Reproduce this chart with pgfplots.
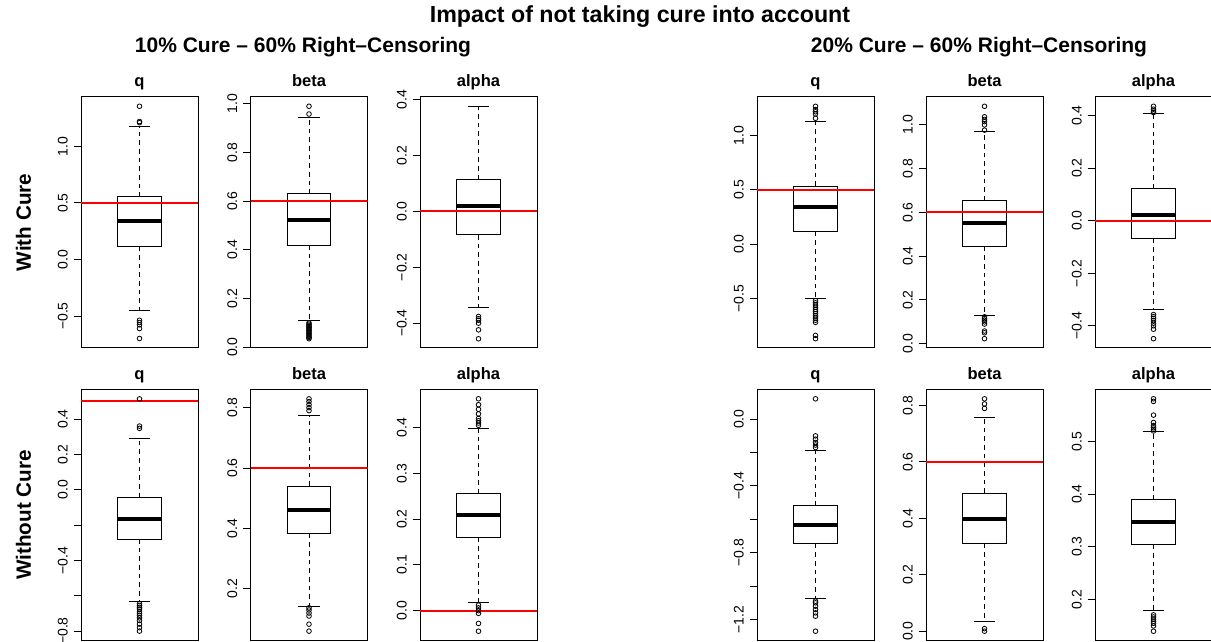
\documentclass[border=0pt]{standalone}
\usepackage{fontspec}
\setmainfont{Liberation Sans}
\usepackage{pgfplots}
\pgfplotsset{compat=1.18}
\usepgfplotslibrary{statistics}
\definecolor{rred}{RGB}{255,0,0}
\pgfplotsset{
  rp/.style={
    scale only axis, width=87.75pt, height=188.25pt,
    anchor=south west,
    xmin=0.46, xmax=1.54, xtick=\empty,
    axis line style={line width=0.75pt},
    every tick/.style={black, line width=0.75pt},
    tick align=outside, ytick pos=left, major tick length=5.5pt,
    yticklabel style={rotate=90, anchor=base, font=\fontsize{10.5}{12}\selectfont, inner sep=0pt, yshift=4.5pt},
    every axis title/.style={font=\bfseries\fontsize{12.4}{14}\selectfont, at={(0.5,1)}, anchor=base, yshift=7.5pt, inner sep=0pt},
    boxplot/draw direction=y,
    boxplot/box extend=0.4,
    boxplot/whisker extend=0.2,
    boxplot/every box/.style={draw=black, line width=0.75pt},
    boxplot/every median/.style={draw=black, line width=3pt},
    boxplot/draw/whisker/.code 2 args={%
      \draw[black, line width=0.75pt, dash pattern=on 3.5pt off 3pt]
        (boxplot box cs:##1,0.5) -- (boxplot box cs:##2,0.5);
      \draw[black, line width=0.75pt, solid]
        (boxplot whisker cs:##2,0) -- (boxplot whisker cs:##2,1);
    },
  },
  rb/.style={black, mark=o, mark size=1.75pt, mark options={solid, line width=0.6pt}},
  rl/.style={color=rred, draw=rred, line width=1.5pt, no marks},
}
\begin{document}
\begin{tikzpicture}
\useasboundingbox (0,0) rectangle (908.25pt,481.5pt);

% ---------- titles ----------
\node[anchor=base, font=\bfseries\fontsize{17.4}{20}\selectfont, inner sep=0pt] at (480pt,464.25pt) {Impact of not taking cure into account};
\node[anchor=base, font=\bfseries\fontsize{15.75}{18}\selectfont, inner sep=0pt] at (227.25pt,441.75pt) {10\% Cure – 60\% Right–Censoring};
\node[anchor=base, font=\bfseries\fontsize{15.75}{18}\selectfont, inner sep=0pt] at (734.25pt,441.75pt) {20\% Cure – 60\% Right–Censoring};
\node[anchor=base, rotate=90, font=\bfseries\fontsize{15.5}{18}\selectfont, inner sep=0pt] at (23.25pt,314.6pt) {With Cure};
\node[anchor=base, rotate=90, font=\bfseries\fontsize{15.5}{18}\selectfont, inner sep=0pt] at (23.25pt,95.25pt) {Without Cure};

% ================= LEFT GROUP, TOP ROW =================
\begin{axis}[rp, at={(60.75pt,220.5pt)}, title={q},
  ymin=-0.782, ymax=1.437, ytick={-0.5,0,0.5,1}, yticklabels={−0.5,0.0,0.5,1.0}]
\addplot[rb, boxplot prepared={draw position=1, lower whisker=-0.45, lower quartile=0.117, median=0.337, upper quartile=0.554, upper whisker=1.18}]
  coordinates {(1,-0.537) (1,-0.557) (1,-0.577) (1,-0.61) (1,-0.698) (1,1.21) (1,1.22) (1,1.355)};
\addplot[rl] coordinates {(0.46,0.5) (1.54,0.5)};
\end{axis}

\begin{axis}[rp, at={(187.875pt,220.5pt)}, title={beta},
  ymin=-0.003, ymax=1.028, ytick={0,0.2,0.4,0.6,0.8,1}, yticklabels={0.0,0.2,0.4,0.6,0.8,1.0}]
\addplot[rb, boxplot prepared={draw position=1, lower whisker=0.11, lower quartile=0.42, median=0.523, upper quartile=0.63, upper whisker=0.942}]
  coordinates {(1,0.958) (1,0.99) (1,0.10) (1,0.095) (1,0.09) (1,0.085) (1,0.08) (1,0.075) (1,0.07) (1,0.065) (1,0.06) (1,0.055) (1,0.05) (1,0.045) (1,0.04) (1,0.035)};
\addplot[rl] coordinates {(0.46,0.6) (1.54,0.6)};
\end{axis}

\begin{axis}[rp, at={(315pt,220.5pt)}, title={alpha},
  ymin=-0.489, ymax=0.410, ytick={-0.4,-0.2,0,0.2,0.4}, yticklabels={−0.4,−0.2,0.0,0.2,0.4}]
\addplot[rb, boxplot prepared={draw position=1, lower whisker=-0.345, lower quartile=-0.084, median=0.018, upper quartile=0.115, upper whisker=0.377}]
  coordinates {(1,-0.376) (1,-0.384) (1,-0.39) (1,-0.40) (1,-0.424) (1,-0.456)};
\addplot[rl] coordinates {(0.46,0) (1.54,0)};
\end{axis}

% ================= LEFT GROUP, BOTTOM ROW =================
\begin{axis}[rp, at={(60.75pt,1.125pt)}, title={q},
  ymin=-0.853, ymax=0.567, ytick={-0.8,-0.6,-0.4,-0.2,0,0.2,0.4}, yticklabels={−0.8,,−0.4,,0.0,0.2,0.4}]
\addplot[rb, boxplot prepared={draw position=1, lower whisker=-0.631, lower quartile=-0.279, median=-0.166, upper quartile=-0.043, upper whisker=0.29}]
  coordinates {(1,0.347) (1,0.36) (1,0.514) (1,-0.645) (1,-0.655) (1,-0.665) (1,-0.675) (1,-0.69) (1,-0.70) (1,-0.71) (1,-0.725) (1,-0.74) (1,-0.76) (1,-0.78) (1,-0.80)};
\addplot[rl] coordinates {(0.46,0.5) (1.54,0.5)};
\end{axis}

\begin{axis}[rp, at={(187.875pt,1.125pt)}, title={beta},
  ymin=0.029, ymax=0.860, ytick={0.2,0.4,0.6,0.8}, yticklabels={0.2,0.4,0.6,0.8}]
\addplot[rb, boxplot prepared={draw position=1, lower whisker=0.143, lower quartile=0.383, median=0.46, upper quartile=0.54, upper whisker=0.775}]
  coordinates {(1,0.79) (1,0.80) (1,0.81) (1,0.82) (1,0.829) (1,0.137) (1,0.13) (1,0.12) (1,0.11) (1,0.083) (1,0.06)};
\addplot[rl] coordinates {(0.46,0.6) (1.54,0.6)};
\end{axis}

\begin{axis}[rp, at={(315pt,1.125pt)}, title={alpha},
  ymin=-0.0653, ymax=0.4833, ytick={0,0.1,0.2,0.3,0.4}, yticklabels={0.0,0.1,0.2,0.3,0.4}]
\addplot[rb, boxplot prepared={draw position=1, lower whisker=0.018, lower quartile=0.160, median=0.208, upper quartile=0.256, upper whisker=0.399}]
  coordinates {(1,0.405) (1,0.41) (1,0.415) (1,0.42) (1,0.43) (1,0.44) (1,0.45) (1,0.463) (1,0.012) (1,0.006) (1,0.0) (1,-0.006) (1,-0.028) (1,-0.045)};
\addplot[rl] coordinates {(0.46,0) (1.54,0)};
\end{axis}

% ================= RIGHT GROUP, TOP ROW =================
\begin{axis}[rp, at={(567.75pt,220.5pt)}, title={q},
  ymin=-0.956, ymax=1.356, ytick={-0.5,0,0.5,1}, yticklabels={−0.5,0.0,0.5,1.0}]
\addplot[rb, boxplot prepared={draw position=1, lower whisker=-0.502, lower quartile=0.117, median=0.339, upper quartile=0.536, upper whisker=1.127}]
  coordinates {(1,1.16) (1,1.2) (1,1.22) (1,1.24) (1,1.27) (1,-0.52) (1,-0.54) (1,-0.56) (1,-0.58) (1,-0.60) (1,-0.62) (1,-0.64) (1,-0.66) (1,-0.68) (1,-0.70) (1,-0.72) (1,-0.84) (1,-0.87)};
\addplot[rl] coordinates {(0.46,0.5) (1.54,0.5)};
\end{axis}

\begin{axis}[rp, at={(694.5pt,220.5pt)}, title={beta},
  ymin=-0.0195, ymax=1.1275, ytick={0,0.2,0.4,0.6,0.8,1}, yticklabels={0.0,0.2,0.4,0.6,0.8,1.0}]
\addplot[rb, boxplot prepared={draw position=1, lower whisker=0.131, lower quartile=0.443, median=0.553, upper quartile=0.654, upper whisker=0.968}]
  coordinates {(1,0.976) (1,1.0) (1,1.015) (1,1.025) (1,1.037) (1,1.085) (1,0.123) (1,0.115) (1,0.108) (1,0.10) (1,0.09) (1,0.058) (1,0.05) (1,0.023)};
\addplot[rl] coordinates {(0.46,0.6) (1.54,0.6)};
\end{axis}

\begin{axis}[rp, at={(821.25pt,220.5pt)}, title={alpha},
  ymin=-0.4844, ymax=0.4714, ytick={-0.4,-0.2,0,0.2,0.4}, yticklabels={−0.4,−0.2,0.0,0.2,0.4}]
\addplot[rb, boxplot prepared={draw position=1, lower whisker=-0.338, lower quartile=-0.068, median=0.021, upper quartile=0.123, upper whisker=0.409}]
  coordinates {(1,0.412) (1,0.418) (1,0.425) (1,0.436) (1,-0.357) (1,-0.365) (1,-0.372) (1,-0.38) (1,-0.39) (1,-0.40) (1,-0.413) (1,-0.449)};
\addplot[rl] coordinates {(0.46,0) (1.54,0)};
\end{axis}

% ================= RIGHT GROUP, BOTTOM ROW =================
\begin{axis}[rp, at={(567.75pt,1.125pt)}, title={q},
  ymin=-1.3257, ymax=0.1777, ytick={-1.2,-1,-0.8,-0.6,-0.4,-0.2,0}, yticklabels={−1.2,,−0.8,,−0.4,,0.0}]
\addplot[rb, boxplot prepared={draw position=1, lower whisker=-1.076, lower quartile=-0.745, median=-0.634, upper quartile=-0.518, upper whisker=-0.185}]
  coordinates {(1,-0.17) (1,-0.155) (1,-0.14) (1,-0.12) (1,-0.10) (1,0.122) (1,-1.09) (1,-1.10) (1,-1.12) (1,-1.14) (1,-1.16) (1,-1.18) (1,-1.27)};
\end{axis}

\begin{axis}[rp, at={(694.5pt,1.125pt)}, title={beta},
  ymin=-0.033, ymax=0.857, ytick={0,0.2,0.4,0.6,0.8}, yticklabels={0.0,0.2,0.4,0.6,0.8}]
\addplot[rb, boxplot prepared={draw position=1, lower whisker=0.034, lower quartile=0.31, median=0.398, upper quartile=0.49, upper whisker=0.756}]
  coordinates {(1,0.79) (1,0.806) (1,0.824) (1,0.009) (1,0.0)};
\addplot[rl] coordinates {(0.46,0.6) (1.54,0.6)};
\end{axis}

\begin{axis}[rp, at={(821.25pt,1.125pt)}, title={alpha},
  ymin=0.1224, ymax=0.5986, ytick={0.2,0.3,0.4,0.5}, yticklabels={0.2,0.3,0.4,0.5}]
\addplot[rb, boxplot prepared={draw position=1, lower whisker=0.18, lower quartile=0.305, median=0.3465, upper quartile=0.39, upper whisker=0.518}]
  coordinates {(1,0.52) (1,0.523) (1,0.526) (1,0.53) (1,0.536) (1,0.55) (1,0.576) (1,0.581) (1,0.171) (1,0.167) (1,0.163) (1,0.159) (1,0.155) (1,0.15) (1,0.14)};
\end{axis}
\end{tikzpicture}
\end{document}
